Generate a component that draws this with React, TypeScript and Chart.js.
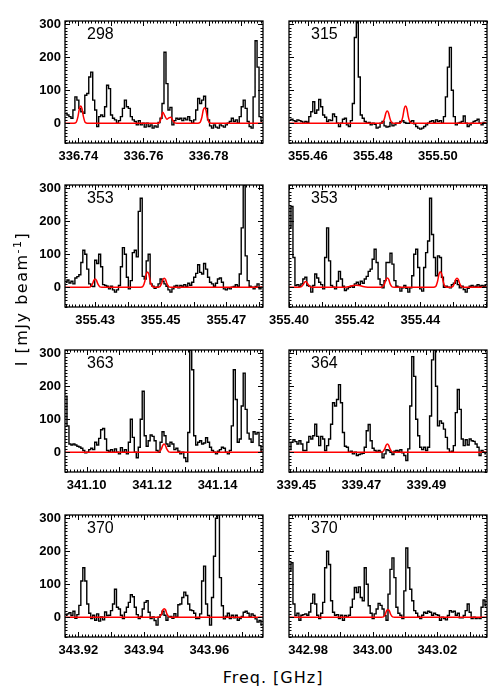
import React, { useEffect, useRef } from 'react';
import { Chart, registerables } from 'chart.js';

Chart.register(...registerables);

// ---------- shared axis values ----------
const Y_RANGE = [-60, 310];
const Y_TICKS = [0, 100, 200, 300];
const X_TITLE = 'Freq. [GHz]';
const Y_TITLE = 'I [mJy beam';
const Y_TITLE_SUP = '-1';

// ---------- panel 1 ----------
const P1_LABEL = '298';
const P1_X_RANGE = [336.7359, 336.7967];
const P1_X_TICKS = [336.74, 336.76, 336.78];
const P1_OBSERVED = [
  30, 25, 20, 15, 40, 80, 70, 45, 35, 30,
  85, 90, 140, 155, 70, 40, -10, 20, 25, 20,
  50, 115, 105, 25, 15, 10, 0, 8, 20, 45,
  70, 50, 45, 20, 10, 5, -5, 8, -5, 0,
  -12, 0, -10, -5, -15, -8, -12, 2, 15, 60,
  215, 120, 40, 48, -5, 8, 15, 12, 15, 8,
  15, 10, 20, 8, 0, 10, 40, 75, 60, 70,
  82, 45, 10, -8, -15, -5, -12, -15, -5, -8,
  -12, -5, 0, 5, 15, 5, 10, 0, 20, 50,
  70, 45, 5, -10, -15, 80, 250, 170, 20, 5,
];
const P1_MODEL_FREQ = [
  336.7359, 336.73867, 336.73928, 336.7399, 336.74031, 336.74072, 336.74113, 336.74154, 336.74215, 336.74277,
  336.76472, 336.76533, 336.76595, 336.76656, 336.76718, 336.76779, 336.76841, 336.76903, 336.76964, 336.77026,
  336.77672, 336.77733, 336.77795, 336.77836, 336.77877, 336.77918, 336.77959, 336.78021, 336.78082, 336.7967,
];
const P1_MODEL_FLUX = [
  0, 0, 2, 21, 44, 52, 44, 21, 2, 0,
  0, 12, 33, 22, 12, 16, 18, 8, 1, 0,
  0, 2, 19, 40, 47, 40, 19, 2, 0, 0,
];

// ---------- panel 2 ----------
const P2_LABEL = '315';
const P2_X_RANGE = [355.4542, 355.5151];
const P2_X_TICKS = [355.46, 355.48, 355.5];
const P2_OBSERVED = [
  10, 12, 8, 5, 10, 8, 5, 0, 5, 3,
  20, 35, 65, 30, 40, 72, 50, 25, 18, 5,
  10, 8, 28, 20, 0, -10, 0, 12, 15, -5,
  -10, 8, 60, 260, 320, 140, 25, 15, 5, 0,
  2, -5, 0, -3, -15, -12, 0, 5, -8, -12,
  -10, 2, -8, -5, 0, 0, 5, 8, 2, 0,
  0, 5, 8, -2, -10, -15, -18, -15, -10, -5,
  0, 5, 8, 2, 10, 5, 8, 0, 20, 80,
  170, 230, 100, 20, -5, 0, 2, 5, 22, 0,
  -10, -5, 0, 5, 8, 12, 0, -5, 2, 0,
];
const P2_MODEL_FREQ = [
  355.4542, 355.48236, 355.48297, 355.48359, 355.484, 355.48441, 355.48482, 355.48523, 355.48585, 355.48646,
  355.488, 355.48861, 355.48923, 355.48964, 355.49005, 355.49046, 355.49087, 355.49149, 355.4921, 355.5151,
];
const P2_MODEL_FLUX = [
  0, 0, 1, 15, 31, 37, 31, 15, 1, 0,
  0, 2, 21, 44, 52, 44, 21, 2, 0, 0,
];

// ---------- panel 3 ----------
const P3_LABEL = '353';
const P3_X_RANGE = [355.4208, 355.4812];
const P3_X_TICKS = [355.43, 355.45, 355.47];
const P3_OBSERVED = [
  15, 22, 13, 18, 10, 28, 32, 38, 75, 112,
  100, 55, 10, 3, 2, 82, 72, 100, 62, 8,
  5, 3, -5, 3, -8, -15, -8, 5, 62, 120,
  100, 30, -5, 20, 105, 112, 92, 230, 270, 33,
  25, 80, 100, 10, 3, -3, 0, 10, 25, 18,
  10, 3, -8, -15, -5, 3, 5, -2, 5, 3,
  8, 2, 12, 6, 15, 30, 42, 68, 45, 40,
  72, 55, 30, 15, 10, 3, 12, 25, 28, 15,
  -5, -8, -2, -5, 0, 2, 8, 3, 40, 180,
  310, 95, 20, 3, 0, -5, 2, 10, -5, 0,
];
const P3_MODEL_FREQ = [
  355.4208, 355.42795, 355.42856, 355.42918, 355.42959, 355.43, 355.43041, 355.43082, 355.43144, 355.43205,
  355.44393, 355.44454, 355.44516, 355.44557, 355.44598, 355.44639, 355.4468, 355.44742, 355.44803,
  355.44902, 355.44963, 355.45025, 355.45066, 355.45107, 355.45148, 355.45189, 355.45251, 355.45312, 355.4812,
];
const P3_MODEL_FLUX = [
  0, 0, 1, 10, 21, 25, 21, 10, 1, 0,
  0, 2, 18, 39, 46, 39, 18, 2, 0,
  0, 1, 11, 23, 27, 23, 11, 1, 0, 0,
];

// ---------- panel 4 ----------
const P4_LABEL = '353';
const P4_X_RANGE = [355.4, 355.4603];
const P4_X_TICKS = [355.4, 355.42, 355.44];
const P4_OBSERVED = [
  180, 245, 90, 5, 8, 3, 10, 25, 30, 5,
  3, -15, 5, 40, 28, 15, 8, -5, 90, 180,
  80, 5, 0, -5, 18, 48, 25, 3, -10, -5,
  0, 3, 0, 10, 15, 8, 18, 12, 25, 33,
  48, 55, 85, 115, 75, 25, 8, -2, 20, 75,
  75, 103, 70, 20, 3, 0, -12, -2, 5, -3,
  -15, -2, 35, 100, 115, 60, -5, -12, 60, 105,
  140, 270, 160, 90, 35, 95, 90, 30, 0, 3,
  0, -2, 8, 12, 20, 8, -2, 3, -7, -15,
  -3, 3, 5, 0, 3, 8, 3, 5, 3, 5,
];
const P4_MODEL_FREQ = [
  355.4, 355.40303, 355.40364, 355.40426, 355.40467, 355.40508, 355.40549, 355.4059, 355.40652, 355.40713,
  355.417, 355.4185, 355.4195, 355.42051, 355.4215, 355.4225, 355.424,
  355.4279, 355.42851, 355.42913, 355.42954, 355.42995, 355.43036, 355.43077, 355.43139, 355.432,
  355.44404, 355.44465, 355.44527, 355.44568, 355.44609, 355.4465, 355.44691, 355.44753, 355.44814,
  355.44912, 355.44973, 355.45035, 355.45076, 355.45117, 355.45158, 355.45199, 355.45261, 355.45322, 355.4603,
];
const P4_MODEL_FLUX = [
  0, 0, 1, 7, 14, 17, 14, 7, 1, 0,
  0, 2, 5, 6, 5, 2, 0,
  0, 1, 11, 24, 28, 24, 11, 1, 0,
  0, 2, 19, 40, 47, 40, 19, 2, 0,
  0, 1, 11, 23, 27, 23, 11, 1, 0, 0,
];

// ---------- panel 5 ----------
const P5_LABEL = '363';
const P5_X_RANGE = [341.0934, 341.1539];
const P5_X_TICKS = [341.1, 341.12, 341.14];
const P5_OBSERVED = [
  170, 80, 25, 22, 25, 22, 18, 16, 12, 5,
  -2, 0, 8, 12, 8, 30, 22, 42, 68, 72,
  40, 5, 3, 8, 0, 10, 0, -5, 14, 0,
  8, -5, 30, 100, 45, 0, -17, 15, 100, 185,
  50, 18, 35, 52, 48, 35, 5, 0, 30, 62,
  50, 25, 18, 30, 25, 8, 12, 3, -5, 0,
  -17, -28, 60, 310, 250, 50, 22, 30, 35, 25,
  28, 44, 30, 15, 5, 0, -5, 3, 8, 15,
  12, 0, -5, 5, 80, 250, 160, 30, 40, 140,
  240, 130, 58, 40, 30, 62, 55, 60, 20, 3,
];
const P5_MODEL_FREQ = [
  341.0934, 341.12162, 341.12223, 341.12285, 341.12326, 341.12367, 341.12408, 341.12449, 341.12511, 341.12572, 341.1539,
];
const P5_MODEL_FLUX = [0, 0, 1, 10, 21, 25, 21, 10, 1, 0, 0];

// ---------- panel 6 ----------
const P6_LABEL = '364';
const P6_X_RANGE = [339.4477, 339.5087];
const P6_X_TICKS = [339.45, 339.47, 339.49];
const P6_OBSERVED = [
  8, 30, 38, 32, 25, 35, 25, 5, 5, 30,
  48, 40, 50, 85, 48, 20, 48, 40, 5, 20,
  40, 85, 150, 140, 160, 205, 150, 60, 18, 15,
  0, 3, -5, 0, -10, -7, -5, -3, 15, 65,
  84, 35, 12, 5, 0, 5, 0, -17, -5, 8,
  5, 0, -7, 3, 5, 3, 8, -2, -10, -25,
  10, 140, 290, 230, 100, 50, 15, 8, 15, 5,
  15, 110, 280, 310, 200, 80, 95, 88, 70, 45,
  10, 0, 3, 20, 120, 190, 130, 40, 20, 38,
  22, 40, 35, 33, 25, 15, -10, 5, 0, -5,
];
const P6_MODEL_FREQ = [
  339.4477, 339.47595, 339.47656, 339.47718, 339.47759, 339.478, 339.47841, 339.47882, 339.47944, 339.48005, 339.5087,
];
const P6_MODEL_FLUX = [0, 0, 1, 10, 21, 25, 21, 10, 1, 0, 0];

// ---------- panel 7 ----------
const P7_LABEL = '370';
const P7_X_RANGE = [343.9159, 343.9764];
const P7_X_TICKS = [343.92, 343.94, 343.96];
const P7_OBSERVED = [
  6, 10, 14, 5, 18, -3, 8, 36, 110, 150,
  110, 40, 12, -4, 6, -9, 10, -12, 1, -8,
  16, 5, 6, 20, 40, 85, 30, 25, 6, -4,
  15, 30, 45, 68, 62, 30, 8, -4, 2, 25,
  45, 50, 15, -4, 1, -10, -24, 0, 8, 18,
  6, -9, 1, 2, -3, 11, 0, 38, 40, 60,
  76, 66, 40, 22, 20, 12, -4, -4, 10, 110,
  155, 40, 5, -24, 60, 185, 300, 310, 120, 35,
  -5, 3, 12, -4, 6, -2, 6, -9, -4, 2,
  15, 18, 12, 1, 10, 5, -5, -15, -10, -24,
];
const P7_MODEL_FREQ = [
  343.9159, 343.94417, 343.94478, 343.9454, 343.94581, 343.94622, 343.94663, 343.94704, 343.94766, 343.94827, 343.9764,
];
const P7_MODEL_FLUX = [0, 0, 1, 10, 22, 26, 22, 10, 1, 0, 0];

// ---------- panel 8 ----------
const P8_LABEL = '370';
const P8_X_RANGE = [342.9741, 343.0354];
const P8_X_TICKS = [342.98, 343.0, 343.02];
const P8_OBSERVED = [
  140, 165, 40, 5, 12, -9, 6, 8, 10, 6,
  16, 42, 70, 40, 6, -4, 12, 45, 150, 200,
  160, 50, 15, 6, 8, -4, 6, -9, 5, 0,
  6, 30, 55, 90, 75, 92, 60, 50, 150, 100,
  35, 12, -4, 10, 25, 42, 36, 25, 5, -9,
  70, 145, 180, 120, 30, 12, 6, -4, 80, 210,
  150, 85, 50, 20, 12, 2, -4, 6, 15, 12,
  18, 15, 6, 12, 8, 6, -9, 0, -4, -8,
  5, 20, 16, 18, 6, 12, -2, -2, 5, 20,
  40, 15, -4, 0, -4, -2, -4, 30, 52, 35,
];
const P8_MODEL_FREQ = [
  342.9741, 343.00269, 343.0033, 343.00392, 343.00433, 343.00474, 343.00515, 343.00556, 343.00618, 343.00679, 343.0354,
];
const P8_MODEL_FLUX = [0, 0, 1, 9, 20, 23, 20, 9, 1, 0, 0];

// ---------- layout ----------
const BOX_LEFT = [65, 289];
const BOX_TOP = [21, 185, 350, 515];
const BOX_W = 198;
const BOX_H = 122;
const PAD_TOP = 14;
const X_AXIS_H = 25;
const FONT = "'Liberation Sans', Arial, Helvetica, sans-serif";

type PanelDef = {
  label: string;
  xRange: number[];
  xTicks: number[];
  observed: number[];
  modelFreq: number[];
  modelFlux: number[];
  col: number;
  row: number;
};

const PANELS: PanelDef[] = [
  { label: P1_LABEL, xRange: P1_X_RANGE, xTicks: P1_X_TICKS, observed: P1_OBSERVED, modelFreq: P1_MODEL_FREQ, modelFlux: P1_MODEL_FLUX, col: 0, row: 0 },
  { label: P2_LABEL, xRange: P2_X_RANGE, xTicks: P2_X_TICKS, observed: P2_OBSERVED, modelFreq: P2_MODEL_FREQ, modelFlux: P2_MODEL_FLUX, col: 1, row: 0 },
  { label: P3_LABEL, xRange: P3_X_RANGE, xTicks: P3_X_TICKS, observed: P3_OBSERVED, modelFreq: P3_MODEL_FREQ, modelFlux: P3_MODEL_FLUX, col: 0, row: 1 },
  { label: P4_LABEL, xRange: P4_X_RANGE, xTicks: P4_X_TICKS, observed: P4_OBSERVED, modelFreq: P4_MODEL_FREQ, modelFlux: P4_MODEL_FLUX, col: 1, row: 1 },
  { label: P5_LABEL, xRange: P5_X_RANGE, xTicks: P5_X_TICKS, observed: P5_OBSERVED, modelFreq: P5_MODEL_FREQ, modelFlux: P5_MODEL_FLUX, col: 0, row: 2 },
  { label: P6_LABEL, xRange: P6_X_RANGE, xTicks: P6_X_TICKS, observed: P6_OBSERVED, modelFreq: P6_MODEL_FREQ, modelFlux: P6_MODEL_FLUX, col: 1, row: 2 },
  { label: P7_LABEL, xRange: P7_X_RANGE, xTicks: P7_X_TICKS, observed: P7_OBSERVED, modelFreq: P7_MODEL_FREQ, modelFlux: P7_MODEL_FLUX, col: 0, row: 3 },
  { label: P8_LABEL, xRange: P8_X_RANGE, xTicks: P8_X_TICKS, observed: P8_OBSERVED, modelFreq: P8_MODEL_FREQ, modelFlux: P8_MODEL_FLUX, col: 1, row: 3 },
];

// IDL-style frame with inward major/minor ticks on all four sides
const framePlugin = {
  id: 'idlFrame',
  afterDatasetsDraw(chart: any) {
    const { ctx, chartArea, scales } = chart;
    const { left, right, top, bottom } = chartArea;
    const xs = scales.x;
    const ys = scales.y;
    ctx.save();
    ctx.strokeStyle = '#000';
    ctx.lineWidth = 1;
    ctx.beginPath();
    const k0 = Math.ceil(xs.min * 1000 - 1e-6);
    const k1 = Math.floor(xs.max * 1000 + 1e-6);
    for (let k = k0; k <= k1; k++) {
      const px = Math.round(xs.getPixelForValue(k / 1000)) + 0.5;
      const len = k % 10 === 0 ? 5 : 2.5;
      ctx.moveTo(px, bottom);
      ctx.lineTo(px, bottom - len);
      ctx.moveTo(px, top);
      ctx.lineTo(px, top + len);
    }
    const j0 = Math.ceil(ys.min / 10);
    const j1 = Math.floor(ys.max / 10);
    for (let j = j0; j <= j1; j++) {
      const py = Math.round(ys.getPixelForValue(j * 10)) + 0.5;
      const len = j % 10 === 0 ? 5 : 2.5;
      ctx.moveTo(left, py);
      ctx.lineTo(left + len, py);
      ctx.moveTo(right, py);
      ctx.lineTo(right - len, py);
    }
    ctx.stroke();
    ctx.lineWidth = 1.3;
    ctx.strokeRect(left, top, right - left, bottom - top);
    ctx.restore();
  },
};

function Panel({ p }: { p: PanelDef }) {
  const ref = useRef<HTMLCanvasElement>(null);
  const isLeft = p.col === 0;
  const canvasLeft = isLeft ? 0 : 255;
  const canvasW = isLeft ? 270 : 245;
  const padLeft = isLeft ? 0 : BOX_LEFT[1] - canvasLeft;
  const yAxisW = isLeft ? BOX_LEFT[0] - canvasLeft : 0;
  const padRight = canvasW - (BOX_LEFT[p.col] - canvasLeft) - BOX_W;
  const canvasTop = BOX_TOP[p.row] - PAD_TOP;
  const canvasH = PAD_TOP + BOX_H + X_AXIS_H;

  useEffect(() => {
    const n = p.observed.length;
    const width = (p.xRange[1] - p.xRange[0]) / n;
    const obs = p.observed.map((v, i) => ({ x: p.xRange[0] + (i + 0.5) * width, y: v }));
    const model = p.modelFreq.map((f, i) => ({ x: f, y: p.modelFlux[i] }));
    const tickFont = { family: FONT, size: 13, weight: 'bold' as const };
    const chart = new Chart(ref.current as HTMLCanvasElement, {
      type: 'line',
      data: {
        datasets: [
          {
            data: model,
            borderColor: 'rgb(255,0,0)',
            borderWidth: 1.5,
            pointRadius: 0,
            cubicInterpolationMode: 'monotone',
            fill: false,
          },
          {
            data: obs,
            borderColor: '#000',
            borderWidth: 1.4,
            pointRadius: 0,
            stepped: 'middle',
            fill: false,
          },
        ],
      },
      options: {
        animation: false,
        responsive: false,
        maintainAspectRatio: false,
        events: [],
        layout: { padding: { top: PAD_TOP, left: padLeft, right: padRight, bottom: 0 } },
        plugins: { legend: { display: false }, tooltip: { enabled: false }, title: { display: false } },
        scales: {
          x: {
            type: 'linear',
            min: p.xRange[0],
            max: p.xRange[1],
            grid: { display: false, drawTicks: false },
            border: { display: false },
            afterBuildTicks: (s: any) => {
              s.ticks = p.xTicks.map((v) => ({ value: v }));
            },
            afterFit: (s: any) => {
              s.height = X_AXIS_H;
            },
            ticks: {
              color: '#000',
              font: tickFont,
              padding: 6,
              maxRotation: 0,
              autoSkip: false,
              callback: (v: any) => Number(v).toFixed(2),
            },
          },
          y: {
            type: 'linear',
            display: isLeft,
            min: Y_RANGE[0],
            max: Y_RANGE[1],
            grid: { display: false, drawTicks: false },
            border: { display: false },
            afterBuildTicks: (s: any) => {
              s.ticks = Y_TICKS.map((v) => ({ value: v }));
            },
            afterFit: (s: any) => {
              s.width = yAxisW;
            },
            ticks: {
              color: '#000',
              font: tickFont,
              padding: 4,
              autoSkip: false,
              callback: (v: any) => String(v),
            },
          },
        },
      } as any,
      plugins: [framePlugin],
    });
    return () => chart.destroy();
  }, [p]);

  return (
    <>
      <canvas
        ref={ref}
        width={canvasW}
        height={canvasH}
        style={{ position: 'absolute', left: canvasLeft, top: canvasTop, width: canvasW, height: canvasH }}
      />
      <div
        style={{
          position: 'absolute',
          left: BOX_LEFT[p.col] + 22,
          top: BOX_TOP[p.row] + 4.5,
          font: `16px ${FONT}`,
          lineHeight: '16px',
          color: '#000',
          whiteSpace: 'nowrap',
        }}
      >
        {p.label}
      </div>
    </>
  );
}

export default function App() {
  return (
    <div style={{ position: 'absolute', left: 0, top: 0, width: 500, height: 700, background: '#fff', overflow: 'hidden' }}>
      {PANELS.map((p, i) => (
        <Panel key={i} p={p} />
      ))}
      <div
        style={{
          position: 'absolute',
          left: 173,
          top: 670,
          width: 200,
          textAlign: 'center',
          font: "16px 'DejaVu Sans', sans-serif",
          lineHeight: '16px',
          letterSpacing: '1px',
          color: '#000',
        }}
      >
        {X_TITLE}
      </div>
      <div
        style={{
          position: 'absolute',
          left: 22 - 110,
          top: 299 - 10,
          width: 220,
          height: 20,
          textAlign: 'center',
          font: "16px 'DejaVu Sans', sans-serif",
          lineHeight: '20px',
          letterSpacing: '1.5px',
          color: '#000',
          transform: 'rotate(-90deg)',
          transformOrigin: '50% 50%',
          whiteSpace: 'nowrap',
        }}
      >
        {Y_TITLE}
        <sup style={{ fontSize: '11px', lineHeight: 0 }}>{Y_TITLE_SUP}</sup>]
      </div>
    </div>
  );
}
